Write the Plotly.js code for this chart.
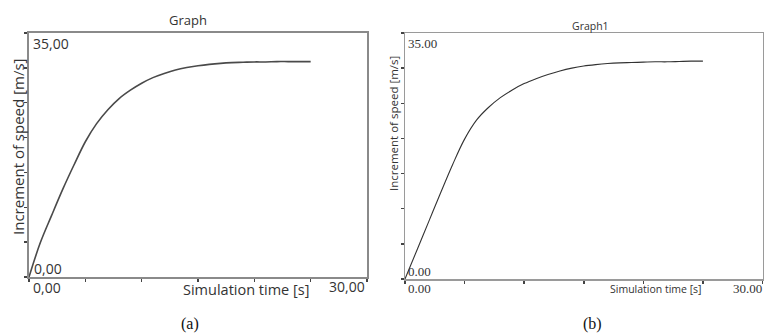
<!DOCTYPE html>
<html>
<head>
<meta charset="utf-8">
<script src="https://cdn.plot.ly/plotly-3.0.1.min.js"></script>
<style>html,body{margin:0;padding:0;background:#fff;}#chart{width:764px;height:336px;}</style>
</head>
<body>
<div id="chart"></div>
<script>
// Data
const timeA = [0,1,2,3,4,5,6,7,8,9,10,11,12,13,14,15,16,17,18,19,20,21,22,23,24,25];
const speedA = [0,4.9,8.8,12.6,16.1,19.4,22.0,24.0,25.6,26.8,27.8,28.6,29.2,29.7,30.05,30.3,30.5,30.65,30.75,30.8,30.85,30.85,30.9,30.9,30.9,30.9];
const timeB = [0,1,2,3,4,5,6,7,8,9,10,11,12,13,14,15,16,17,18,19,20,21,22,23,24,25];
const speedB = [0,4.1,8.2,12.3,16.3,19.9,22.6,24.4,25.8,26.9,27.8,28.5,29.1,29.6,30.0,30.3,30.5,30.65,30.75,30.8,30.85,30.9,30.9,30.95,31.0,31.0];
const xTicks = [0,5,10,15,20,25,30];
const yTicks = [0,5,10,15,20,25,30,35];
const titleA = "Graph", titleB = "Graph1";
const yTitle = "Increment of speed [m/s]";
const xTitle = "Simulation time [s]";
const labelsA = {ymax:"35,00", ymin:"0,00", xmin:"0,00", xmax:"30,00"};
const labelsB = {ymax:"35.00", ymin:"0.00", xmin:"0.00", xmax:"30.00"};

const W = 764, H = 336;
const px = x => x / W, py = y => 1 - y / H;
const sans = "Open Sans, Noto Sans, DejaVu Sans, sans-serif";
const serif = "Liberation Serif, Times New Roman, serif";

const traces = [
  {x: timeA, y: speedA, xaxis: 'x', yaxis: 'y', mode: 'lines', line: {color: '#4a4a4a', width: 1.6, shape: 'spline', smoothing: 1}, hoverinfo: 'skip'},
  {x: timeB, y: speedB, xaxis: 'x2', yaxis: 'y2', mode: 'lines', line: {color: '#333', width: 1.1, shape: 'spline', smoothing: 1}, hoverinfo: 'skip'}
];

function ax(domain, anchor, vals, range, color, lw) {
  return {domain: domain, anchor: anchor, range: range, tickvals: vals, showticklabels: false,
    ticks: 'outside', ticklen: 3, tickwidth: 1.5, tickcolor: '#444', showline: true, mirror: true,
    linecolor: color, linewidth: lw, showgrid: false, zeroline: false, fixedrange: true};
}

function ann(text, x, y, xa, size, font, color, extra) {
  return Object.assign({text: text, x: px(x), y: py(y), xref: 'paper', yref: 'paper', xanchor: xa, yanchor: 'middle',
    showarrow: false, font: {family: font, size: size, color: color}}, extra || {});
}

const annotations = [
  ann(titleA, 188, 20, 'center', 13, sans, '#333'),
  ann(labelsA.ymax, 31, 43, 'left', 14, sans, '#333'),
  ann(labelsA.ymin, 32, 268, 'left', 14, sans, '#333'),
  ann(labelsA.xmin, 31, 287, 'left', 14, sans, '#333'),
  ann(xTitle, 311, 289, 'right', 14.5, sans, '#333'),
  ann(labelsA.xmax, 367, 286, 'right', 14, sans, '#333'),
  ann(yTitle, 18, 147, 'center', 15, sans, '#333', {textangle: -90}),
  ann('(a)', 190, 324, 'center', 16, serif, '#111'),
  ann(titleB, 590, 26, 'center', 10.5, sans, '#333'),
  ann(labelsB.ymax, 406, 43, 'left', 13, serif, '#333'),
  ann(labelsB.ymin, 406, 271, 'left', 13, serif, '#333'),
  ann(labelsB.xmin, 406, 288, 'left', 13, serif, '#333'),
  ann(xTitle, 704, 289, 'right', 10.5, sans, '#333'),
  ann(labelsB.xmax, 764, 288, 'right', 13, serif, '#333'),
  ann(yTitle, 393, 124, 'center', 11.5, sans, '#333', {textangle: -90}),
  ann('(b)', 592, 324, 'center', 16, serif, '#111')
];

const layout = {
  width: W, height: H, margin: {l: 0, r: 0, t: 0, b: 0},
  paper_bgcolor: '#fff', plot_bgcolor: '#fff', showlegend: false,
  xaxis: ax([px(29), px(367)], 'y', xTicks, [0, 30], '#8a8a8a', 2),
  yaxis: ax([py(277), py(33)], 'x', yTicks, [0, 35], '#8a8a8a', 2),
  xaxis2: ax([px(405), px(762.5)], 'y2', xTicks, [0, 30], '#9a9a9a', 1.5),
  yaxis2: ax([py(279), py(33)], 'x2', yTicks, [0, 35], '#9a9a9a', 1.5),
  annotations: annotations
};

Plotly.newPlot('chart', traces, layout, {displayModeBar: false, staticPlot: true});
</script>
</body>
</html>
